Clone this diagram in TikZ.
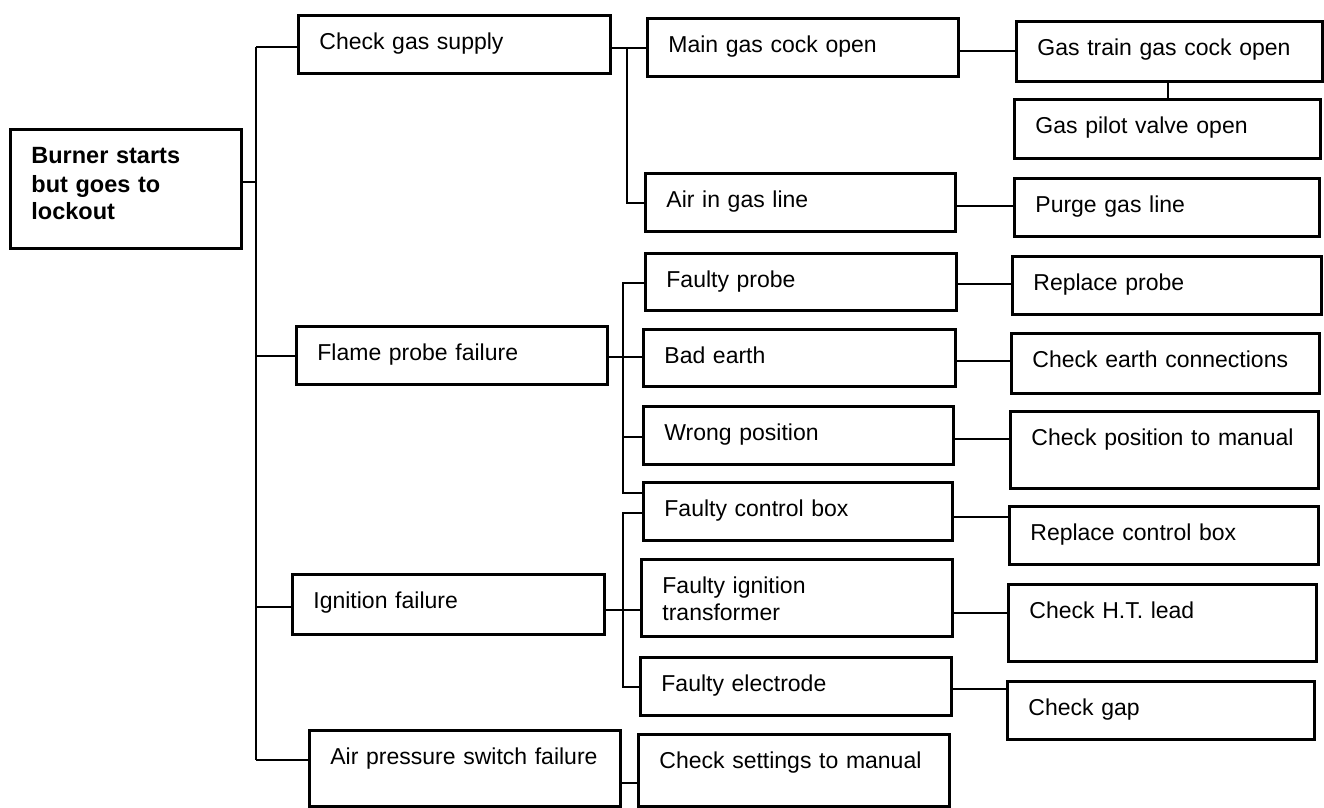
\documentclass[tikz,border=0pt]{standalone}
\usepackage{fontspec}
\setmainfont{Liberation Sans}
\hyphenpenalty=10000
\exhyphenpenalty=10000
\tikzset{
  box/.style={draw, line width=2.8pt, anchor=north west, inner xsep=21pt, inner ysep=0pt,
    align=left, text height=34pt, font=\fontsize{23}{27}\selectfont},
  conn/.style={line width=1.8pt},
}
\newcommand\boxnode[6]{%
  \pgfmathsetmacro\bxw{#4-#2-42}\pgfmathsetmacro\bxd{#5-#3-34}%
  \node[box, text width=\bxw pt, text depth=\bxd pt] (#1) at (#2,#3) {#6};}
\begin{document}
\begin{tikzpicture}[x=1pt,y=-1pt]
\useasboundingbox (0,0) rectangle (1324,807);
% level 0
\boxnode{root}{9}{128}{240}{247}{\fontsize{23.5}{29}\selectfont\bfseries Burner starts\\but goes to\\lockout}
% level 1
\boxnode{cgs}{297}{14}{609}{72}{Check gas supply}
\boxnode{fpf}{295}{325}{606}{383}{Flame probe failure}
\boxnode{ign}{291}{573}{603}{633}{Ignition failure}
\boxnode{aps}{308}{729}{619}{805}{Air pressure switch failure}
% level 2
\boxnode{mgc}{646}{17}{957}{75}{Main gas cock open}
\boxnode{aigl}{644}{172}{954}{230}{Air in gas line}
\boxnode{fp}{644}{252}{955}{309}{Faulty probe}
\boxnode{be}{642}{328}{954}{385}{Bad earth}
\boxnode{wp}{642}{405}{952}{463}{Wrong position}
\boxnode{fcb}{642}{481}{951}{539}{Faulty control box}
\boxnode{fit}{640}{558}{951}{635}{\fontsize{23}{26}\selectfont Faulty ignition\\transformer}
\boxnode{fe}{639}{656}{950}{714}{Faulty electrode}
\boxnode{csm}{637}{733}{948}{805}{Check settings to manual}
% level 3
\boxnode{gtg}{1015}{20}{1321}{80}{Gas train gas cock open}
\boxnode{gpv}{1013}{98}{1319}{157}{Gas pilot valve open}
\boxnode{pgl}{1013}{177}{1318}{235}{Purge gas line}
\boxnode{rp}{1011}{255}{1320}{313}{Replace probe}
\boxnode{cec}{1010}{332}{1318}{392}{Check earth connections}
\boxnode{cpm}{1009}{410}{1317}{487}{Check position to manual}
\boxnode{rcb}{1008}{505}{1317}{563}{Replace control box}
\boxnode{cht}{1007}{583}{1315}{660}{Check H.T. lead}
\boxnode{cg}{1006}{680}{1313}{738}{Check gap}
% branch coordinates
\coordinate (t) at (256,0);
\coordinate (g) at (627,0);
\coordinate (f) at (623,0);
\coordinate (v) at (1168,0);
% trunk
\draw[conn] (root.east |- 0,182) -- (t |- 0,182);
\draw[conn] (t |- 0,47) -- (t |- 0,760);
\draw[conn] (t |- 0,47) -- (cgs.west |- 0,47);
\draw[conn] (t |- 0,356) -- (fpf.west |- 0,356);
\draw[conn] (t |- 0,607) -- (ign.west |- 0,607);
\draw[conn] (t |- 0,760) -- (aps.west |- 0,760);
% gas supply branch
\draw[conn] (cgs.east |- 0,48) -- (mgc.west |- 0,48);
\draw[conn] (g |- 0,48) -- (g |- 0,203) -- (aigl.west |- 0,203);
% flame probe branch
\draw[conn] (fpf.east |- 0,357) -- (be.west |- 0,357);
\draw[conn] (fp.west |- 0,283) -- (f |- 0,283) -- (f |- 0,493) -- (fcb.west |- 0,493);
\draw[conn] (f |- 0,437) -- (wp.west |- 0,437);
% ignition branch
\draw[conn] (ign.east |- 0,610) -- (fit.west |- 0,610);
\draw[conn] (fcb.west |- 0,513) -- (f |- 0,513) -- (f |- 0,687) -- (fe.west |- 0,687);
% air pressure
\draw[conn] (aps.east |- 0,783) -- (csm.west |- 0,783);
% level 3 connectors
\draw[conn] (mgc.east |- 0,51) -- (gtg.west |- 0,51);
\draw[conn] (v |- gtg.south) -- (v |- gpv.north);
\draw[conn] (aigl.east |- 0,206) -- (pgl.west |- 0,206);
\draw[conn] (fp.east |- 0,284) -- (rp.west |- 0,284);
\draw[conn] (be.east |- 0,361) -- (cec.west |- 0,361);
\draw[conn] (wp.east |- 0,439) -- (cpm.west |- 0,439);
\draw[conn] (fcb.east |- 0,517) -- (rcb.west |- 0,517);
\draw[conn] (fit.east |- 0,613) -- (cht.west |- 0,613);
\draw[conn] (fe.east |- 0,689) -- (cg.west |- 0,689);
\end{tikzpicture}
\end{document}
